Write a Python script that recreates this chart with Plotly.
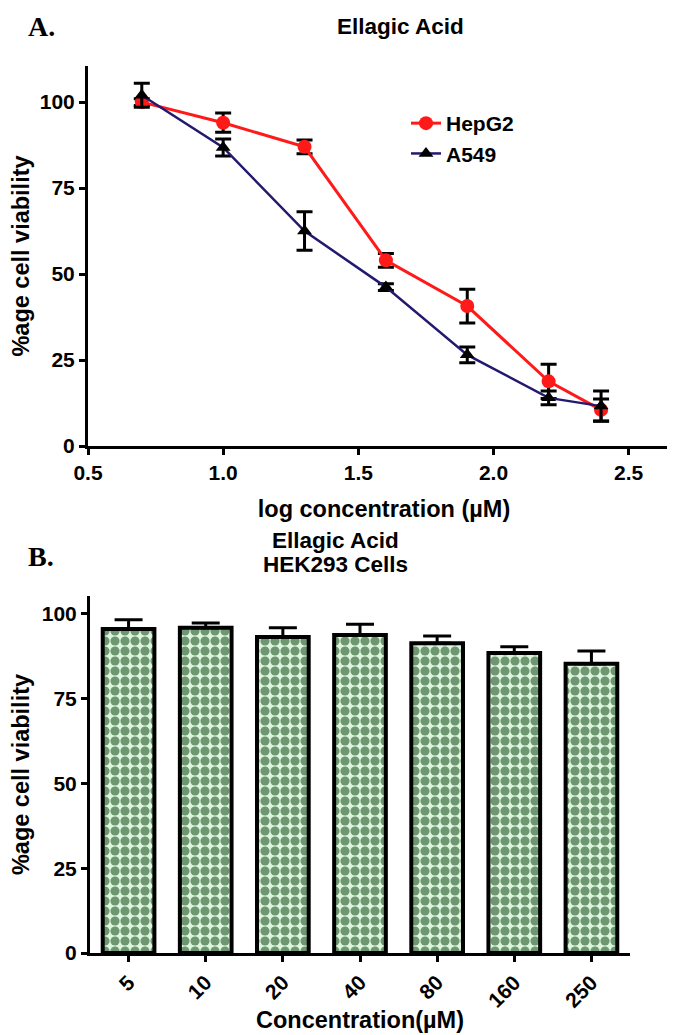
import plotly.graph_objects as go

# ---------------- data ----------------
log_conc = [0.699, 1.0, 1.301, 1.602, 1.903, 2.204, 2.398]
hepg2 = [100, 94, 87, 54, 40.7, 18.8, 10.5]
hepg2_err = [1, 2.8, 2, 2, 4.9, 5, 3.2]
a549 = [102, 86.8, 62.5, 46.2, 26.5, 14, 11.6]
a549_err = [3.5, 2.5, 5.6, 1, 2.3, 2, 4.4]

conc_labels = ["5", "10", "20", "40", "80", "160", "250"]
hek293 = [95.6, 95.9, 93.2, 93.8, 91.4, 88.5, 85.3]
hek293_err = [2.7, 1.4, 2.7, 3.2, 2.1, 1.8, 3.8]

# ---------------- layout helpers ----------------
W, H = 675, 1035
def px(x):
    return x / W
def py(y):
    return (H - y) / H

FONT = "Liberation Sans"
tickfont = dict(family=FONT, size=21, color="black", weight="bold")
titlefont = dict(family=FONT, size=23.5, color="black", weight="bold")

fig = go.Figure()

fig.add_trace(go.Scatter(
    x=log_conc, y=hepg2, name="HepG2", mode="lines+markers",
    line=dict(color="#ff1a1a", width=3),
    marker=dict(symbol="circle", size=14, color="#ff1a1a"),
    error_y=dict(type="data", array=hepg2_err, color="black", thickness=3, width=8),
    xaxis="x", yaxis="y",
))
fig.add_trace(go.Scatter(
    x=log_conc, y=a549, name="A549", mode="lines+markers",
    line=dict(color="#221a6e", width=2.5),
    marker=dict(symbol="triangle-up", size=13, color="black"),
    error_y=dict(type="data", array=a549_err, color="black", thickness=3, width=8),
    xaxis="x", yaxis="y",
))

fig.add_trace(go.Bar(
    x=conc_labels, y=hek293, name="HEK293", showlegend=False,
    width=0.67,
    marker=dict(
        color="white",
        line=dict(color="black", width=4),
        pattern=dict(shape=".", fgcolor="#003a05", bgcolor="#ddf4dd", size=10, solidity=0.66),
    ),
    error_y=dict(type="data", array=hek293_err, arrayminus=[0] * len(hek293_err),
                 symmetric=False, color="black", thickness=3, width=14),
    xaxis="x2", yaxis="y2",
))

axis_common = dict(
    showline=True, linecolor="black", linewidth=3, ticks="outside", ticklen=6,
    tickwidth=3, tickcolor="black", showgrid=False, zeroline=False,
    tickfont=tickfont, mirror=False, automargin=False,
)

fig.update_layout(
    width=W, height=H, margin=dict(l=0, r=0, t=0, b=0),
    paper_bgcolor="white", plot_bgcolor="white",
    xaxis=dict(domain=[px(80), px(672)], anchor="y", range=[0.5, 2.69],
               tickvals=[0.5, 1.0, 1.5, 2.0, 2.5], tickformat=".1f",
               title=dict(text="log concentration (\u00b5M)", font=titlefont, standoff=18),
               **axis_common),
    yaxis=dict(domain=[py(438), py(58)], anchor="x", range=[0, 110.5],
               tickvals=[0, 25, 50, 75, 100],
               title=dict(text="%age cell viability", font=titlefont, standoff=8),
               **axis_common),
    xaxis2=dict(domain=[px(82), px(622)], anchor="y2", range=[-0.5, 6.5],
                tickangle=-45,
                title=dict(text="Concentration(\u00b5M)", font=titlefont, standoff=1),
                **axis_common),
    yaxis2=dict(domain=[py(945), py(588)], anchor="x2", range=[0, 105.3],
                tickvals=[0, 25, 50, 75, 100],
                title=dict(text="%age cell viability", font=titlefont, standoff=8),
                **axis_common),
    legend=dict(x=px(398), y=py(95), xanchor="left", yanchor="top",
                font=dict(family=FONT, size=21, color="black", weight="bold"),
                bgcolor="rgba(0,0,0,0)", tracegroupgap=0, itemwidth=30),
    showlegend=True,
)

ann_font = dict(family=FONT, size=22.5, color="black", weight="bold")
fig.add_annotation(text="Ellagic Acid", x=px(392), y=py(18), xref="paper", yref="paper",
                   xanchor="center", yanchor="middle", showarrow=False, font=ann_font)
fig.add_annotation(text="Ellagic Acid", x=px(327), y=py(532), xref="paper", yref="paper",
                   xanchor="center", yanchor="middle", showarrow=False, font=ann_font)
fig.add_annotation(text="HEK293 Cells", x=px(327), y=py(556), xref="paper", yref="paper",
                   xanchor="center", yanchor="middle", showarrow=False, font=ann_font)
fig.add_annotation(text="A.", x=px(33), y=py(18), xref="paper", yref="paper",
                   xanchor="center", yanchor="middle", showarrow=False,
                   font=dict(family="Liberation Serif", size=28, color="black", weight="bold"))
fig.add_annotation(text="B.", x=px(33), y=py(548), xref="paper", yref="paper",
                   xanchor="center", yanchor="middle", showarrow=False,
                   font=dict(family="Liberation Serif", size=28, color="black", weight="bold"))

fig.write_html("out.html")
